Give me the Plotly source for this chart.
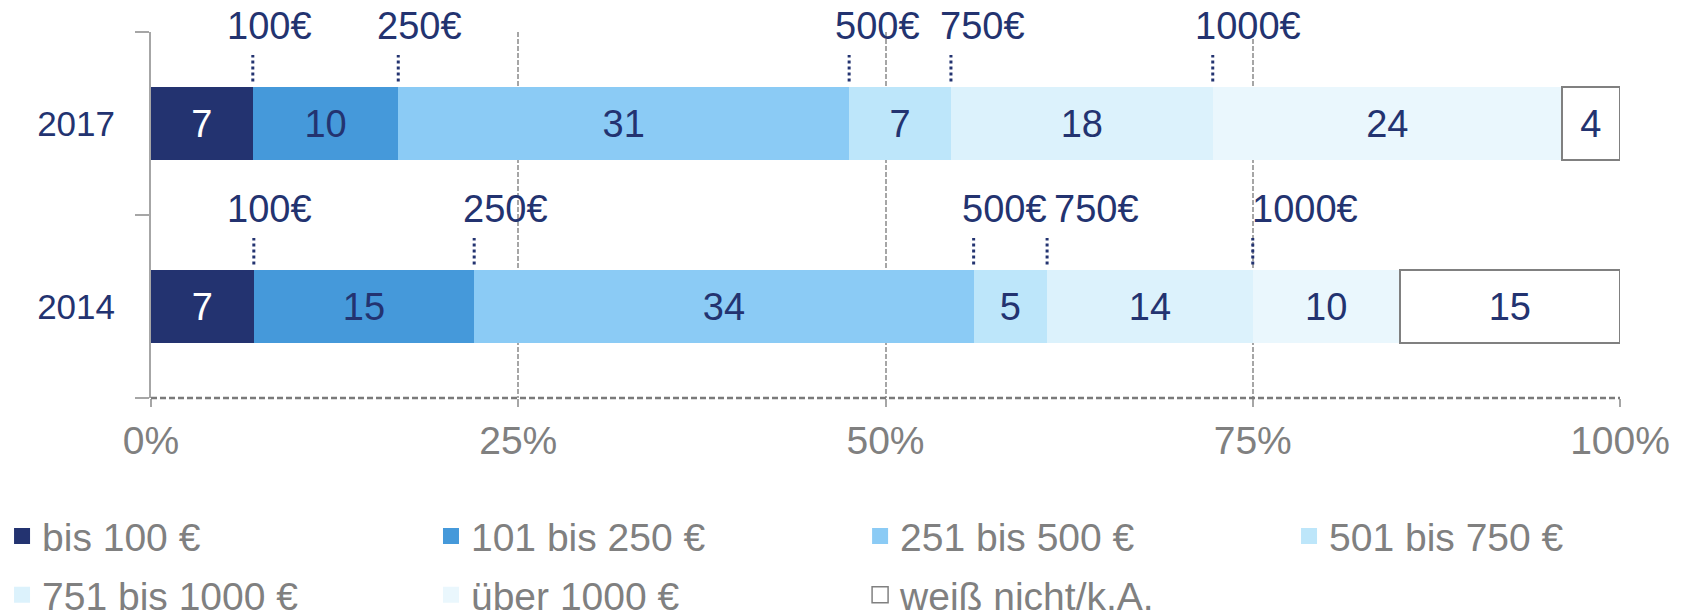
import plotly.graph_objects as go
import numpy as np

# data
years = ["2014", "2017"]
categories = ["bis 100 €", "101 bis 250 €", "251 bis 500 €", "501 bis 750 €",
              "751 bis 1000 €", "über 1000 €", "weiß nicht/k.A."]
values_2014 = [7, 15, 34, 5, 14, 10, 15]
values_2017 = [7, 10, 31, 7, 18, 24, 4]
threshold_labels = ["100€", "250€", "500€", "750€", "1000€"]
tick_vals = [0, 25, 50, 75, 100]
tick_text = ["0%", "25%", "50%", "75%", "100%"]

colors = ["#233370", "#4599DA", "#8BCBF5", "#BDE6FA", "#DCF2FC", "#EAF7FD", "#FFFFFF"]
navy = "#233370"
grey = "#808080"
font_family = "Liberation Sans, Arial, sans-serif"

fig = go.Figure()

for i, cat in enumerate(categories):
    vals = [values_2014[i], values_2017[i]]
    last = i == len(categories) - 1
    fig.add_trace(go.Bar(
        y=years, x=vals, name=cat, orientation="h", showlegend=False,
        marker=dict(color=colors[i],
                    line=dict(color=grey if last else colors[i], width=2 if last else 0)),
        text=[str(v) for v in vals],
        textposition="inside", insidetextanchor="middle", textangle=0,
        textfont=dict(size=38, color="white" if i == 0 else navy, family=font_family),
        width=0.4, hoverinfo="skip",
    ))

# legend entries: 4 columns, each its own vertical legend
legend_ids = ["legend", "legend2", "legend3", "legend4"]
for i, cat in enumerate(categories):
    last = i == len(categories) - 1
    fig.add_trace(go.Scatter(
        x=[None], y=[None], mode="markers", name=cat,
        legend=legend_ids[i % 4], legendgroup=cat,
        marker=dict(symbol="square", size=19, color=colors[i],
                    line=dict(color=grey if last else colors[i], width=1.5 if last else 0)),
    ))

# threshold markers above bars (dotted line + label), placed at cumulative shares
label_shifts = {"2017": [17, 21, 28, 32, 35], "2014": [16, 31, 31, 49, 52]}
for yi, (year, vals) in enumerate(zip(years, [values_2014, values_2017])):
    cum = np.cumsum(vals) / sum(vals) * 100
    for k, lab in enumerate(threshold_labels):
        fig.add_shape(type="line", xref="x", yref="y",
                      x0=cum[k], x1=cum[k], y0=yi + 0.23, y1=yi + 0.375,
                      line=dict(color=navy, width=3, dash="dot"))
        fig.add_annotation(x=cum[k], y=yi + 0.375, xref="x", yref="y",
                           text=lab, showarrow=False, yanchor="middle",
                           xshift=label_shifts[year][k], yshift=29,
                           font=dict(size=38, color=navy, family=font_family))

# dashed baseline
fig.add_shape(type="line", xref="x domain", yref="y domain", x0=0, x1=1, y0=0, y1=0,
              line=dict(color="#7A7A7A", width=2.5, dash="6px,3px"))

legend_style = dict(orientation="v", y=-0.29, yanchor="top", xanchor="left",
                    traceorder="grouped", tracegroupgap=5, itemwidth=30,
                    font=dict(size=39, color=grey, family=font_family),
                    bgcolor="rgba(0,0,0,0)")

fig.update_layout(
    barmode="stack", barnorm="percent",
    width=1683, height=612,
    margin=dict(l=151, r=63, t=32, b=214, autoexpand=False),
    plot_bgcolor="white", paper_bgcolor="white",
    font=dict(family=font_family),
    xaxis=dict(range=[0, 100], tickvals=tick_vals, ticktext=tick_text,
               showgrid=True, gridcolor="#A6A6A6", griddash="5px,2px", gridwidth=2,
               zeroline=False, showline=False,
               ticks="outside", ticklen=8, tickcolor="#A6A6A6", tickwidth=2,
               tickfont=dict(size=39, color=grey)),
    yaxis=dict(type="category", range=[-0.5, 1.5], tickson="boundaries",
               showline=True, linecolor="#A6A6A6", linewidth=2,
               ticks="outside", ticklen=14, tickcolor="#A6A6A6", tickwidth=2,
               ticklabelstandoff=27,
               tickfont=dict(size=35, color=navy), showgrid=False, zeroline=False),
    legend=dict(x=-0.1014, **legend_style),
    legend2=dict(x=0.1906, **legend_style),
    legend3=dict(x=0.4827, **legend_style),
    legend4=dict(x=0.7747, **legend_style),
    showlegend=True,
)

fig.write_html("out.html", config={"displayModeBar": False},
               post_script="document.body.style.margin='0';")
